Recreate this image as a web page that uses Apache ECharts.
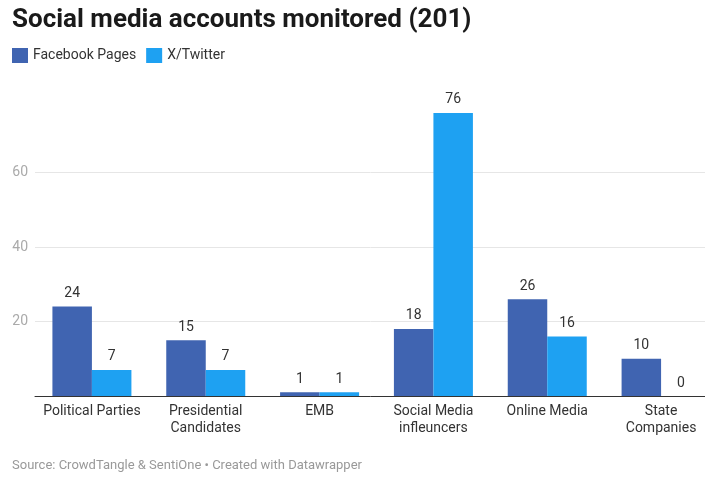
<!DOCTYPE html>
<html>
<head>
<meta charset="utf-8">
<script src="https://cdn.jsdelivr.net/npm/echarts@6/dist/echarts.min.js"></script>
<style>html,body{margin:0;padding:0;background:#fff;}#c{width:705px;height:477px;}</style>
</head>
<body>
<div id="c"></div>
<script>
const categories = ['Political Parties', 'Presidential\nCandidates', 'EMB', 'Social Media\ninfleuncers', 'Online Media', 'State\nCompanies'];
const facebookPages = [24, 15, 1, 18, 26, 10];
const xTwitter = [7, 7, 1, 76, 16, 0];
const yTicks = [0, 20, 40, 60, 80];

const chart = echarts.init(document.getElementById('c'));
const font = 'Roboto, "Noto Sans", sans-serif';
const labelStyle = {show: true, position: 'top', distance: 6, color: '#333', fontSize: 14, fontFamily: font};
chart.setOption({
  animation: false,
  textStyle: {fontFamily: font},
  title: [
    {text: 'Social media accounts monitored (201)', left: 12, top: 7, padding: 0,
     textStyle: {fontSize: 26, fontWeight: 'bold', color: '#1a1a1a', fontFamily: font}},
    {text: 'Source: CrowdTangle & SentiOne • Created with Datawrapper', left: 12, top: 459, padding: 0,
     textStyle: {fontSize: 13, fontWeight: 'normal', color: '#999', fontFamily: font}}
  ],
  legend: {
    left: 12, top: 48, padding: 0, itemWidth: 16, itemHeight: 15, itemGap: 10, icon: 'rect',
    textStyle: {fontSize: 14, color: '#333', fontFamily: font},
    data: ['Facebook Pages', 'X/Twitter']
  },
  grid: {left: 35, right: -13, top: 98, bottom: 81, containLabel: false, outerBoundsMode: 'none'},
  xAxis: {
    type: 'category', data: categories,
    axisTick: {show: false},
    axisLine: {lineStyle: {color: '#333', width: 1}},
    axisLabel: {color: '#333', fontSize: 14, margin: 7, lineHeight: 17, fontFamily: font, interval: 0}
  },
  yAxis: {
    type: 'value', min: yTicks[0], max: yTicks[yTicks.length - 1], interval: 20,
    axisLine: {show: false}, axisTick: {show: false},
    axisLabel: {color: '#aaa', fontSize: 14, margin: 7, showMinLabel: false, showMaxLabel: false, fontFamily: font},
    splitLine: {show: true, showMinLine: false, showMaxLine: false, lineStyle: {color: '#e6e6e6', width: 1}}
  },
  series: [
    {name: 'Facebook Pages', type: 'bar', data: facebookPages, barWidth: 39.5, barGap: '0%',
     itemStyle: {color: '#4064b1'}, label: labelStyle},
    {name: 'X/Twitter', type: 'bar', data: xTwitter, barWidth: 39.5, barGap: '0%',
     itemStyle: {color: '#1ea1f2'}, label: labelStyle}
  ]
});
</script>
</body>
</html>
